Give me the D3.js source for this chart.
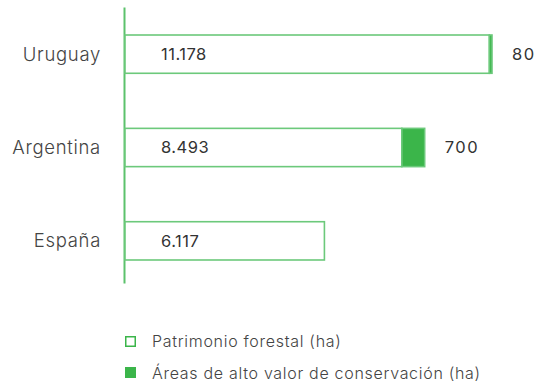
<!DOCTYPE html>
<html>
<head>
<meta charset="utf-8">
<script src="https://cdn.jsdelivr.net/npm/d3@7"></script>
<style>
  html, body { margin: 0; padding: 0; background: #ffffff; }
  svg { display: block; font-family: Inter, "Open Sans", sans-serif; }
</style>
</head>
<body>
<svg id="chart" width="536" height="387"></svg>
<script>
// Forest assets per country, with high-conservation-value areas stacked on the end
const countries = ["Uruguay", "Argentina", "España"];
const forestHa = [11178, 8493, 6117];
const conservationHa = [80, 700, 0];
const forestLabels = ["11.178", "8.493", "6.117"];
const conservationLabels = ["80", "700", ""];
const legendLabels = ["Patrimonio forestal (ha)", "Áreas de alto valor de conservación (ha)"];

const outline = "#6cc97b";
const fill = "#3bb54a";
const axisColor = "#5cc26c";
const textColor = "#333333";

const svg = d3.select("#chart");

const rows = countries.map((c, i) => ({
  country: c,
  forest: forestHa[i],
  cons: conservationHa[i],
  forestLabel: forestLabels[i],
  consLabel: conservationLabels[i]
}));

const x = d3.scaleLinear()
  .domain([0, d3.max(rows, d => d.forest + d.cons)])
  .range([125, 492]);

const y = d3.scaleBand()
  .domain(countries)
  .range([7, 288])
  .paddingInner(0.59)
  .paddingOuter(0.3);

// Vertical baseline
svg.append("line")
  .attr("x1", 124.5).attr("x2", 124.5)
  .attr("y1", 7.5).attr("y2", 283.5)
  .attr("stroke", axisColor)
  .attr("stroke-width", 2);

const g = svg.append("g");

// Forest bars: outlined
g.selectAll("rect.forest")
  .data(rows)
  .join("rect")
  .attr("class", "forest")
  .attr("x", x(0))
  .attr("y", d => y(d.country))
  .attr("width", d => x(d.forest) - x(0))
  .attr("height", y.bandwidth())
  .attr("fill", "#ffffff")
  .attr("stroke", outline)
  .attr("stroke-width", 1.6);

// Conservation segments: solid
g.selectAll("rect.cons")
  .data(rows.filter(d => d.cons > 0))
  .join("rect")
  .attr("class", "cons")
  .attr("x", d => x(d.forest))
  .attr("y", d => y(d.country))
  .attr("width", d => x(d.forest + d.cons) - x(d.forest))
  .attr("height", y.bandwidth())
  .attr("fill", fill)
  .attr("stroke", outline)
  .attr("stroke-width", 1.6);

// Country labels
svg.selectAll("text.country")
  .data(rows)
  .join("text")
  .attr("class", "country")
  .attr("x", 101)
  .attr("y", d => y(d.country) + y.bandwidth() / 2)
  .attr("dy", "0.35em")
  .attr("text-anchor", "end")
  .attr("font-size", 18.5)
  .attr("font-weight", 300)
  .attr("letter-spacing", 0.7)
  .attr("fill", "#444444")
  .text(d => d.country);

// Forest values inside the bars
svg.selectAll("text.fval")
  .data(rows)
  .join("text")
  .attr("class", "fval")
  .attr("x", 161)
  .attr("y", d => y(d.country) + y.bandwidth() / 2)
  .attr("dy", "0.35em")
  .attr("font-size", 16.5)
  .attr("letter-spacing", 0.5)
  .attr("fill", textColor)
  .text(d => d.forestLabel);

// Conservation values beyond the bar ends
svg.selectAll("text.cval")
  .data(rows.filter(d => d.cons > 0))
  .join("text")
  .attr("class", "cval")
  .attr("x", d => x(d.forest + d.cons) + 20)
  .attr("y", d => y(d.country) + y.bandwidth() / 2)
  .attr("dy", "0.35em")
  .attr("font-size", 16.5)
  .attr("letter-spacing", 1.5)
  .attr("fill", textColor)
  .text(d => d.consLabel);

// Legend
const legend = svg.append("g");
const legendY = [341, 373];
legend.append("rect")
  .attr("x", 125.75).attr("y", legendY[0] - 4.25)
  .attr("width", 9.5).attr("height", 9.5)
  .attr("fill", "#ffffff")
  .attr("stroke", fill)
  .attr("stroke-width", 1.5);
legend.append("rect")
  .attr("x", 125).attr("y", legendY[1] - 6)
  .attr("width", 11).attr("height", 11)
  .attr("fill", fill);
legend.selectAll("text")
  .data(legendLabels)
  .join("text")
  .attr("x", 152)
  .attr("y", (d, i) => legendY[i])
  .attr("dy", "0.35em")
  .attr("font-size", 16)
  .attr("font-weight", 300)
  .attr("letter-spacing", 0.7)
  .attr("fill", "#444444")
  .text(d => d);
</script>
</body>
</html>
